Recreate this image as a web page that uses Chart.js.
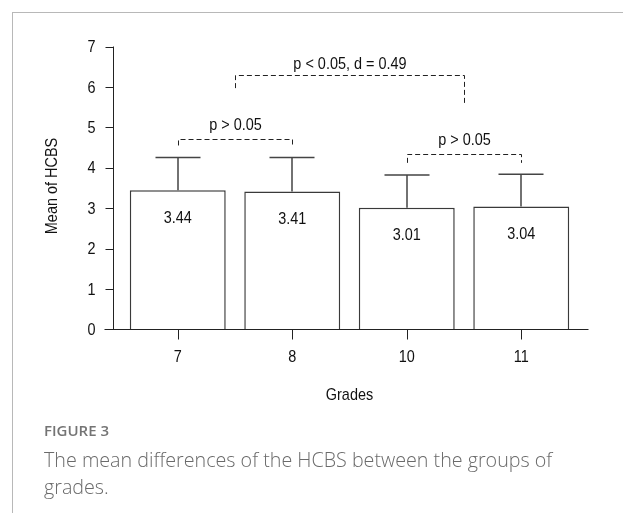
<!DOCTYPE html>
<html>
<head>
<meta charset="utf-8">
<script src="https://cdn.jsdelivr.net/npm/chart.js@4"></script>
<style>
  html, body { margin: 0; padding: 0; background: #fff; }
  #page { position: relative; width: 623px; height: 513px; overflow: hidden; }
  #frame { position: absolute; left: 12px; top: 12px; right: 0; bottom: 0;
           border-left: 1px solid #b8b8b8; border-top: 1px solid #b8b8b8; }
  #chart { position: absolute; left: 0; top: 0; }
  #figno { position: absolute; left: 44px; top: 420px; font: 600 15px "Open Sans", sans-serif;
           color: #747474; line-height: 20px; }
  #caption { position: absolute; left: 44px; top: 446px; width: 530px;
             font: 300 19.7px "Open Sans", sans-serif; color: #6a6a6a; line-height: 27px; }
</style>
</head>
<body>
<div id="page">
  <div id="frame"></div>
  <canvas id="chart" width="623" height="513"></canvas>
  <div id="figno">FIGURE 3</div>
  <div id="caption">The mean differences of the HCBS between the groups of grades.</div>
</div>
<script>
const grades = ['7', '8', '10', '11'];
const means = [3.44, 3.41, 3.01, 3.04];
const upperSD = [4.25, 4.25, 3.82, 3.84];
const yTicks = [0, 1, 2, 3, 4, 5, 6, 7];

// significance brackets (category index positions, values on the y scale)
const bracketLabels = ['p > 0.05', 'p > 0.05', 'p < 0.05, d = 0.49'];
const bracketFrom = [0, 2, 0.5];
const bracketTo = [1, 3, 2.5];
const bracketTop = [4.7, 4.35, 6.3];
const bracketLeftEnd = [4.55, 4.12, 5.97];
const bracketRightEnd = [4.55, 4.12, 5.58];
const bracketTextY = [5.06, 4.67, 6.56];

const FONT = '17px "Liberation Sans", Arial, sans-serif';
const SQUEEZE = 0.85; // the figure's text is a narrow face

// draw condensed text, align is 'left' | 'center' | 'right'
function narrowText(ctx, str, x, y, align) {
    ctx.save();
    ctx.translate(x, y);
    ctx.scale(SQUEEZE, 1);
    ctx.textAlign = align;
    ctx.fillText(str, 0, 0);
    ctx.restore();
}

const rPlot = {
    id: 'rPlot',
    afterDatasetsDraw(chart) {
        const ctx = chart.ctx;
        const xs = chart.scales.x;
        const ys = chart.scales.y;
        const area = chart.chartArea;
        const bars = chart.getDatasetMeta(0).data;
        const px = v => Math.round(v) + 0.5;

        ctx.save();
        ctx.font = FONT;
        ctx.fillStyle = '#111';
        ctx.textBaseline = 'middle';

        // error bars (upper only)
        ctx.strokeStyle = '#444';
        ctx.lineWidth = 1.5;
        bars.forEach((bar, i) => {
            const x = Math.round(bar.x);
            const yTop = ys.getPixelForValue(upperSD[i]);
            ctx.beginPath();
            ctx.moveTo(x, bar.y);
            ctx.lineTo(x, yTop);
            ctx.moveTo(x - 22.5, yTop);
            ctx.lineTo(x + 22.5, yTop);
            ctx.stroke();
        });

        // value labels inside bars
        bars.forEach((bar, i) => {
            narrowText(ctx, means[i].toFixed(2), bar.x, bar.y + 28, 'center');
        });

        // brackets
        ctx.strokeStyle = '#222';
        ctx.lineWidth = 1;
        ctx.setLineDash([5, 3]);
        bracketLabels.forEach((lab, i) => {
            const x1 = px(xs.getPixelForValue(bracketFrom[i]));
            const x2 = px(xs.getPixelForValue(bracketTo[i]));
            const yt = px(ys.getPixelForValue(bracketTop[i]));
            ctx.beginPath();
            ctx.moveTo(x1, ys.getPixelForValue(bracketLeftEnd[i]));
            ctx.lineTo(x1, yt);
            ctx.lineTo(x2, yt);
            ctx.lineTo(x2, ys.getPixelForValue(bracketRightEnd[i]));
            ctx.stroke();
            narrowText(ctx, lab, (x1 + x2) / 2, ys.getPixelForValue(bracketTextY[i]), 'center');
        });
        ctx.setLineDash([]);

        // axes, drawn R style
        ctx.strokeStyle = '#222';
        ctx.lineWidth = 1;
        const axX = px(area.left - 8);
        const axY = px(ys.getPixelForValue(0));
        ctx.beginPath();
        ctx.moveTo(axX, ys.getPixelForValue(7));
        ctx.lineTo(axX, axY);
        ctx.moveTo(axX - 9, axY);
        ctx.lineTo(area.right + 10, axY);
        yTicks.forEach(t => {
            const y = px(ys.getPixelForValue(t));
            ctx.moveTo(axX - 8, y);
            ctx.lineTo(axX, y);
        });
        grades.forEach((g, i) => {
            const x = px(xs.getPixelForValue(i));
            ctx.moveTo(x, axY);
            ctx.lineTo(x, axY + 10);
        });
        ctx.stroke();

        yTicks.forEach(t => narrowText(ctx, String(t), axX - 18, ys.getPixelForValue(t) + 1, 'right'));
        grades.forEach((g, i) => narrowText(ctx, g, xs.getPixelForValue(i), axY + 28, 'center'));

        // axis titles
        narrowText(ctx, 'Grades', (area.left + area.right) / 2, axY + 66, 'center');
        ctx.translate(52, 186);
        ctx.rotate(-Math.PI / 2);
        ctx.scale(SQUEEZE, 1);
        ctx.textAlign = 'center';
        ctx.fillText('Mean of HCBS', 0, 0);
        ctx.restore();
    }
};

new Chart(document.getElementById('chart'), {
    type: 'bar',
    data: {
        labels: grades,
        datasets: [{
            data: means,
            backgroundColor: '#fff',
            borderColor: '#3a3a3a',
            borderWidth: 1.5,
            categoryPercentage: 1,
            barPercentage: 0.838
        }]
    },
    options: {
        responsive: false,
        animation: false,
        layout: { padding: { left: 120.5, right: 44.5, top: 46.5, bottom: 183.7 } },
        plugins: { legend: { display: false }, tooltip: { enabled: false } },
        scales: {
            x: { display: false },
            y: { display: false, min: 0, max: 7 }
        }
    },
    plugins: [rPlot]
});
</script>
</body>
</html>
